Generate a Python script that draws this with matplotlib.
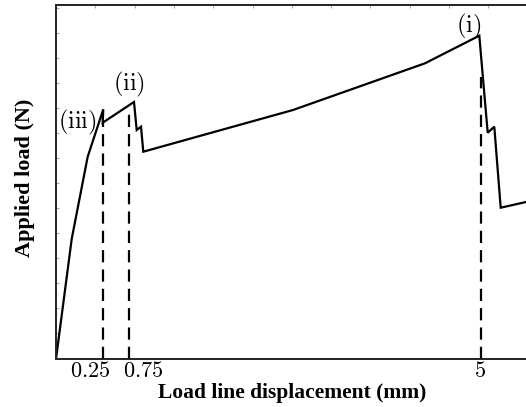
import matplotlib
matplotlib.use("Agg")
import matplotlib.pyplot as plt
import numpy as np

plt.rcParams['mathtext.fontset'] = 'cm'

# Load-displacement curve (plot units)
disp = [0, 15.7, 31.7, 47.3, 46.7, 78, 80.7, 85, 87.3, 237, 369, 423.3, 431.7, 438.3, 444.7, 470]
load = [0, 120, 202.3, 249.7, 236.3, 257, 229, 232.3, 207.3, 249, 295.7, 323.3, 226.3, 232.3, 151.3, 157]

# Dashed marker lines: x position and top of the line
mark_x = [47, 73, 424.7]
mark_top = [236, 246, 282]

# Tick labels and their positions
tick_pos = [34.5, 87.5, 424]
tick_labels = ['0.25', '0.75', '5']

# Peak annotations
ann_text = ['(iii)', '(ii)', '(i)']
ann_x = [21, 73, 412.5]
ann_y = [236.5, 275, 332.3]

W, H = 526, 407
fig = plt.figure(figsize=(W / 100, H / 100), dpi=100)
ax = fig.add_axes([56 / W, (H - 359) / H, 1 - 56 / W, (359 - 5) / H])
ax.set_xlim(0, 470)
ax.set_ylim(0, 354)

ax.plot(disp, load, color='black', lw=1.6, solid_joinstyle='miter')
for x, t in zip(mark_x, mark_top):
    ax.plot([x, x], [0, t], color='black', lw=1.6, dashes=(5.5, 3.2))

for s, x, y in zip(ann_text, ann_x, ann_y):
    ax.text(x, y, r'$\mathrm{' + s + '}$', fontsize=17.5, ha='center', va='center')

for sp in ['left', 'top', 'bottom']:
    ax.spines[sp].set_linewidth(1.4)
    ax.spines[sp].set_color('#222222')
ax.spines['right'].set_visible(False)

ax.set_xticks(tick_pos)
ax.set_xticklabels([r'$' + t + '$' for t in tick_labels], fontsize=16)
ax.tick_params(axis='x', which='major', length=0, pad=1.5)
ax.set_xticks(np.arange(0, 470, 39.3), minor=True)
ax.tick_params(axis='x', which='minor', bottom=False, top=True, direction='in',
               length=2.5, color='#aaaaaa', width=0.8)
ax.set_yticks(np.arange(1, 354, 25))
ax.set_yticklabels([])
ax.tick_params(axis='y', which='major', direction='in', length=2.5, color='#aaaaaa', width=0.8)

fig.text(292 / W, 1 - 398 / H, 'Load line displacement (mm)', fontsize=15.5,
         fontweight='bold', family='Liberation Serif', ha='center', va='baseline')
fig.text(25 / W, 1 - 178 / H, 'Applied load (N)', fontsize=16, rotation=90,
         fontweight='bold', family='Liberation Serif', ha='center', va='center')

fig.savefig('out.png', dpi=100)
